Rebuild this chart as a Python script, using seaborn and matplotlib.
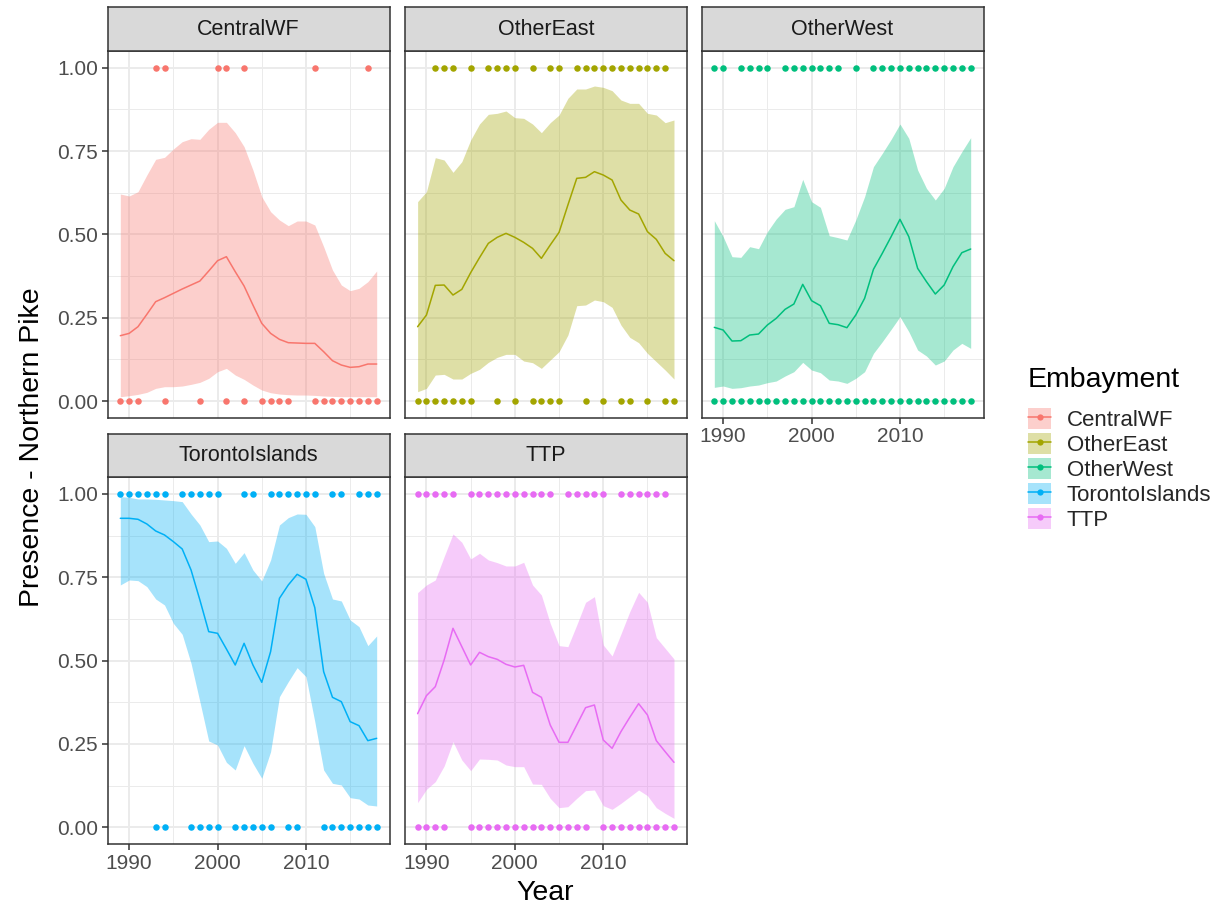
#!/usr/bin/env python3
"""
Faceted presence/absence plot for Northern Pike by embayment (ggplot-like look).
"""

import matplotlib
matplotlib.use("Agg")
import matplotlib.pyplot as plt
import seaborn as sns
import pandas as pd
from matplotlib.patches import Patch
from matplotlib.lines import Line2D
from matplotlib.legend_handler import HandlerTuple
from matplotlib.ticker import FixedLocator

# ---------------------------------------------------------------- data
years = [1989, 1990, 1991, 1992, 1993, 1994, 1995, 1996, 1997, 1998,
         1999, 2000, 2001, 2002, 2003, 2004, 2005, 2006, 2007, 2008,
         2009, 2010, 2011, 2012, 2013, 2014, 2015, 2016, 2017, 2018]

embayments = ["CentralWF", "OtherEast", "OtherWest", "TorontoIslands", "TTP"]
colors = ["#F8766D", "#A3A500", "#00BF7D", "#00B0F6", "#E76BF3"]

# fitted probability of presence (line) and confidence band
cwf_mean = [0.196, 0.203, 0.223, 0.260, 0.298, 0.310, 0.323, 0.336, 0.348, 0.360,
            0.390, 0.421, 0.433, 0.388, 0.345, 0.288, 0.233, 0.203, 0.185, 0.175,
            0.174, 0.173, 0.173, 0.148, 0.121, 0.108, 0.101, 0.103, 0.111, 0.111]
cwf_low = [0.013, 0.016, 0.020, 0.026, 0.038, 0.043, 0.043, 0.045, 0.050, 0.056,
           0.068, 0.088, 0.098, 0.078, 0.065, 0.048, 0.033, 0.025, 0.021, 0.019,
           0.018, 0.018, 0.017, 0.015, 0.014, 0.013, 0.013, 0.013, 0.013, 0.013]
cwf_high = [0.621, 0.615, 0.628, 0.678, 0.725, 0.731, 0.756, 0.778, 0.787, 0.785,
            0.815, 0.836, 0.836, 0.805, 0.763, 0.693, 0.613, 0.568, 0.543, 0.526,
            0.540, 0.540, 0.528, 0.463, 0.393, 0.348, 0.331, 0.338, 0.358, 0.390]

oe_mean = [0.223, 0.258, 0.347, 0.348, 0.318, 0.335, 0.385, 0.430, 0.473, 0.491,
           0.503, 0.491, 0.476, 0.458, 0.428, 0.468, 0.506, 0.588, 0.668, 0.671,
           0.688, 0.678, 0.663, 0.603, 0.573, 0.561, 0.508, 0.485, 0.443, 0.421]
oe_low = [0.028, 0.038, 0.078, 0.080, 0.066, 0.066, 0.083, 0.095, 0.116, 0.131,
          0.140, 0.140, 0.120, 0.115, 0.098, 0.123, 0.148, 0.198, 0.286, 0.288,
          0.303, 0.298, 0.281, 0.228, 0.191, 0.175, 0.143, 0.118, 0.093, 0.066]
oe_high = [0.598, 0.628, 0.730, 0.723, 0.686, 0.718, 0.783, 0.831, 0.860, 0.863,
           0.870, 0.850, 0.848, 0.831, 0.805, 0.835, 0.858, 0.908, 0.936, 0.936,
           0.945, 0.941, 0.931, 0.903, 0.893, 0.893, 0.863, 0.858, 0.835, 0.843]

ow_mean = [0.221, 0.213, 0.180, 0.181, 0.198, 0.201, 0.228, 0.248, 0.275, 0.291,
           0.350, 0.301, 0.286, 0.233, 0.229, 0.220, 0.258, 0.308, 0.395, 0.443,
           0.493, 0.545, 0.493, 0.398, 0.358, 0.321, 0.348, 0.403, 0.445, 0.456]
ow_low = [0.041, 0.045, 0.038, 0.040, 0.045, 0.048, 0.055, 0.060, 0.075, 0.088,
          0.116, 0.093, 0.085, 0.063, 0.060, 0.053, 0.068, 0.088, 0.143, 0.178,
          0.215, 0.253, 0.208, 0.153, 0.135, 0.108, 0.120, 0.153, 0.173, 0.158]
ow_high = [0.541, 0.493, 0.433, 0.431, 0.463, 0.457, 0.508, 0.546, 0.575, 0.583,
           0.665, 0.598, 0.581, 0.496, 0.490, 0.483, 0.543, 0.613, 0.703, 0.743,
           0.785, 0.831, 0.788, 0.693, 0.638, 0.603, 0.638, 0.703, 0.748, 0.790]

ti_mean = [0.927, 0.927, 0.924, 0.910, 0.889, 0.877, 0.857, 0.835, 0.772, 0.682,
           0.587, 0.582, 0.535, 0.487, 0.552, 0.487, 0.435, 0.527, 0.687, 0.727,
           0.759, 0.744, 0.659, 0.467, 0.390, 0.377, 0.317, 0.305, 0.260, 0.267]
ti_low = [0.727, 0.742, 0.740, 0.722, 0.685, 0.667, 0.612, 0.579, 0.492, 0.377,
          0.259, 0.247, 0.195, 0.172, 0.245, 0.192, 0.147, 0.227, 0.392, 0.437,
          0.479, 0.452, 0.317, 0.172, 0.132, 0.127, 0.089, 0.085, 0.067, 0.064]
ti_high = [0.992, 0.990, 0.985, 0.985, 0.984, 0.982, 0.980, 0.977, 0.940, 0.907,
           0.857, 0.859, 0.837, 0.792, 0.824, 0.772, 0.739, 0.802, 0.907, 0.929,
           0.940, 0.939, 0.902, 0.762, 0.685, 0.679, 0.622, 0.602, 0.545, 0.574]

ttp_mean = [0.341, 0.395, 0.422, 0.502, 0.597, 0.542, 0.487, 0.525, 0.512, 0.504,
            0.489, 0.481, 0.486, 0.405, 0.390, 0.307, 0.255, 0.255, 0.307, 0.359,
            0.367, 0.262, 0.237, 0.287, 0.330, 0.371, 0.337, 0.260, 0.227, 0.195]
ttp_low = [0.074, 0.114, 0.137, 0.184, 0.257, 0.202, 0.170, 0.205, 0.204, 0.202,
           0.187, 0.182, 0.182, 0.130, 0.129, 0.087, 0.059, 0.062, 0.087, 0.110,
           0.112, 0.065, 0.054, 0.072, 0.092, 0.112, 0.095, 0.059, 0.042, 0.027]
ttp_high = [0.704, 0.727, 0.742, 0.812, 0.880, 0.855, 0.805, 0.822, 0.802, 0.794,
            0.784, 0.784, 0.795, 0.727, 0.697, 0.612, 0.545, 0.542, 0.607, 0.675,
            0.692, 0.547, 0.514, 0.580, 0.647, 0.705, 0.675, 0.569, 0.537, 0.505]

# observed survey years with presence (1) and absence (0)
cwf_present = [1993, 1994, 2000, 2001, 2003, 2011, 2017]
cwf_absent = [1989, 1990, 1991, 1994, 1998, 2001, 2003, 2005, 2006, 2007, 2008,
              2011, 2012, 2013, 2014, 2015, 2016, 2017, 2018]

oe_present = [1991, 1992, 1993, 1995, 1997, 1998, 1999, 2000, 2002, 2004, 2005,
              2007, 2008, 2009, 2010, 2011, 2012, 2013, 2014, 2015, 2016, 2017]
oe_absent = [1989, 1990, 1991, 1992, 1993, 1994, 1995, 1998, 2000, 2002, 2003,
             2004, 2005, 2008, 2010, 2012, 2013, 2015, 2017, 2018]

ow_present = [1989, 1990, 1992, 1993, 1994, 1995, 1997, 1998, 1999, 2000, 2001,
              2002, 2003, 2005, 2007, 2008, 2009, 2010, 2011, 2012, 2013, 2014,
              2015, 2016, 2017, 2018]
ow_absent = [1989, 1990, 1991, 1992, 1993, 1994, 1995, 1996, 1997, 1998, 1999,
             2000, 2001, 2002, 2003, 2004, 2005, 2006, 2007, 2008, 2009, 2010,
             2011, 2012, 2013, 2014, 2015, 2016, 2017, 2018]

ti_present = [1989, 1990, 1991, 1992, 1993, 1994, 1996, 1997, 1998, 1999, 2000,
              2003, 2004, 2006, 2007, 2008, 2009, 2010, 2011, 2013, 2014, 2016,
              2017, 2018]
ti_absent = [1993, 1994, 1997, 1998, 1999, 2000, 2002, 2003, 2004, 2005, 2006,
             2008, 2009, 2012, 2013, 2014, 2015, 2016, 2017, 2018]

ttp_present = [1989, 1990, 1991, 1992, 1993, 1995, 1996, 1997, 1998, 1999, 2000,
               2001, 2002, 2003, 2004, 2006, 2007, 2008, 2009, 2010, 2012, 2013,
               2014, 2015, 2016, 2017]
ttp_absent = [1989, 1990, 1991, 1992, 1995, 1996, 1997, 1998, 1999, 2000, 2001,
              2002, 2003, 2004, 2005, 2006, 2007, 2008, 2010, 2011, 2012, 2013,
              2014, 2015, 2016, 2017, 2018]

fits = {
    "CentralWF": (cwf_mean, cwf_low, cwf_high),
    "OtherEast": (oe_mean, oe_low, oe_high),
    "OtherWest": (ow_mean, ow_low, ow_high),
    "TorontoIslands": (ti_mean, ti_low, ti_high),
    "TTP": (ttp_mean, ttp_low, ttp_high),
}
obs = {
    "CentralWF": (cwf_present, cwf_absent),
    "OtherEast": (oe_present, oe_absent),
    "OtherWest": (ow_present, ow_absent),
    "TorontoIslands": (ti_present, ti_absent),
    "TTP": (ttp_present, ttp_absent),
}


def build_frames():
    fit_rows, obs_rows = [], []
    for emb in embayments:
        m, lo, hi = fits[emb]
        for y, a, b, c in zip(years, m, lo, hi):
            fit_rows.append({"Embayment": emb, "Year": y, "fit": a, "lwr": b, "upr": c})
        pres, absn = obs[emb]
        for y in pres:
            obs_rows.append({"Embayment": emb, "Year": y, "Presence": 1})
        for y in absn:
            obs_rows.append({"Embayment": emb, "Year": y, "Presence": 0})
    return pd.DataFrame(fit_rows), pd.DataFrame(obs_rows)


# ---------------------------------------------------------------- layout
W, H = 1230, 913
FONT = ["Liberation Sans", "DejaVu Sans"]


def px_rect(left, top, width, height):
    return [left / W, 1 - (top + height) / H, width / W, height / H]


def main():
    sns.set_theme(style="white")
    plt.rcParams["font.family"] = FONT

    fit_df, obs_df = build_frames()
    palette = dict(zip(embayments, colors))

    fig = plt.figure(figsize=(W / 100, H / 100), dpi=100)

    col_left = [107.5, 404.8, 701.5]
    row_top = [51.0, 477.3]
    pw, ph = 282.0, 366.7
    strip_h = 43.5
    grid_pos = {
        "CentralWF": (0, 0), "OtherEast": (0, 1), "OtherWest": (0, 2),
        "TorontoIslands": (1, 0), "TTP": (1, 1),
    }

    for emb in embayments:
        r, c = grid_pos[emb]
        ax = fig.add_axes(px_rect(col_left[c], row_top[r], pw, ph))
        color = palette[emb]
        sub = fit_df[fit_df["Embayment"] == emb]
        osub = obs_df[obs_df["Embayment"] == emb]

        ax.fill_between(sub["Year"], sub["lwr"], sub["upr"], color=color,
                        alpha=0.35, lw=0, zorder=2)
        sns.lineplot(data=sub, x="Year", y="fit", color=color, lw=1.1,
                     ax=ax, zorder=3)
        sns.scatterplot(data=osub, x="Year", y="Presence", color=color, s=22,
                        linewidth=0, ax=ax, zorder=4)

        ax.set_xlim(1987.55, 2019.45)
        ax.set_ylim(-0.05, 1.05)
        ax.xaxis.set_major_locator(FixedLocator([1990, 2000, 2010]))
        ax.xaxis.set_minor_locator(FixedLocator([1995, 2005, 2015]))
        ax.yaxis.set_major_locator(FixedLocator([0, 0.25, 0.5, 0.75, 1.0]))
        ax.yaxis.set_minor_locator(FixedLocator([0.125, 0.375, 0.625, 0.875]))
        ax.grid(which="major", color="#EBEBEB", lw=1.4, zorder=0)
        ax.grid(which="minor", color="#EBEBEB", lw=0.7, zorder=0)
        ax.set_axisbelow(True)
        ax.set_facecolor("white")
        for sp in ax.spines.values():
            sp.set_color("#333333")
            sp.set_linewidth(1.1)
            sp.set_zorder(5)
        ax.tick_params(which="major", length=4, width=1.1, color="#333333",
                       labelsize=15, labelcolor="#4D4D4D", pad=3,
                       bottom=True, left=True)
        ax.tick_params(which="minor", length=0)
        ax.set_xlabel("")
        ax.set_ylabel("")

        if c == 0:
            ax.set_yticklabels(["0.00", "0.25", "0.50", "0.75", "1.00"])
        else:
            ax.tick_params(axis="y", which="major", left=False, labelleft=False)
        show_x = (r == 1) or (emb == "OtherWest")
        if not show_x:
            ax.tick_params(axis="x", which="major", bottom=False, labelbottom=False)

        # facet strip
        sax = fig.add_axes(px_rect(col_left[c], row_top[r] - strip_h, pw, strip_h))
        sax.set_facecolor("#D9D9D9")
        sax.set_xticks([])
        sax.set_yticks([])
        for sp in sax.spines.values():
            sp.set_color("#333333")
            sp.set_linewidth(1.1)
        sax.text(0.5, 0.5, emb, ha="center", va="center", fontsize=15.5,
                 color="#1A1A1A", transform=sax.transAxes)

    # axis titles
    fig.text(545 / W, 1 - 893 / H, "Year", ha="center", va="center",
             fontsize=20.5, color="black")
    fig.text(32 / W, 1 - 447 / H, "Presence - Northern Pike", ha="center",
             va="center", rotation=90, fontsize=20.5, color="black")

    # legend (title drawn separately so its gap to the keys matches ggplot)
    fig.text(1028 / W, 1 - 380 / H, "Embayment", ha="left", va="center",
             fontsize=20.5, color="black")
    handles = [(Patch(facecolor=col, alpha=0.35, lw=0),
                Line2D([], [], color=col, lw=1.1, marker="o", markersize=4.5,
                       markeredgewidth=0))
               for col in colors]
    fig.legend(handles, embayments,
               loc="upper left", bbox_to_anchor=(1028 / W, 1 - 408.5 / H),
               frameon=False, fontsize=16,
               handler_map={tuple: HandlerTuple(ndivide=1)},
               handlelength=1.05, handleheight=1.05, handletextpad=0.7,
               labelspacing=0.09, borderpad=0, borderaxespad=0)

    fig.savefig("out.png", dpi=100)
    plt.close(fig)


if __name__ == "__main__":
    main()
